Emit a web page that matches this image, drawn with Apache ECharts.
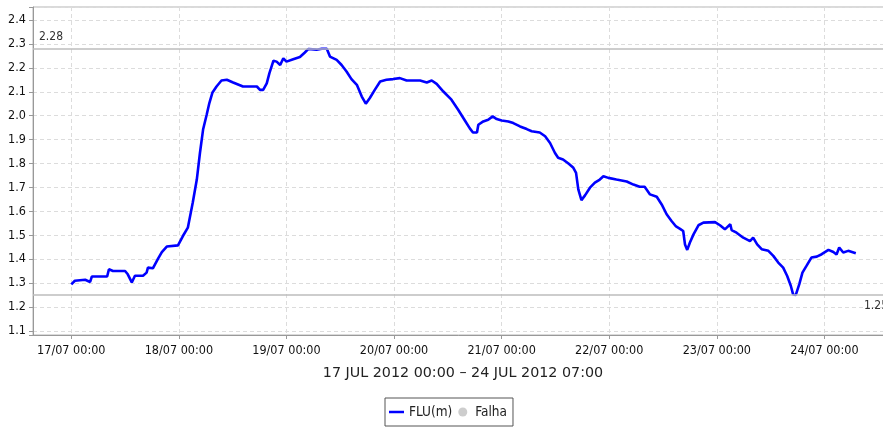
<!DOCTYPE html>
<html>
<head>
<meta charset="utf-8">
<script src="https://cdn.jsdelivr.net/npm/echarts@6/dist/echarts.min.js"></script>
<style>
  html, body { margin: 0; padding: 0; background: #fff; }
  #chart { width: 883px; height: 429px; }
</style>
</head>
<body>
<div id="chart"></div>
<script>
// FLU(m) level readings, 17 JUL 2012 00:00 to 24 JUL 2012 07:00
// Hours since 17/07/2012 00:00 (UTC)
const hours = [
  0, 0.8, 3.1, 3.5, 4.2, 4.6, 8.0, 8.4, 9.3, 12.0,
  12.6, 13.5, 14.2, 16.0, 16.8, 17.1, 18.2, 19.3, 20.2, 21.3,
  23.8, 24.9, 26.0, 27.1, 28.0, 28.7, 29.4, 30.2, 30.8, 31.5,
  32.4, 33.5, 34.7, 36.1, 38.3, 41.4, 41.6, 42.1, 42.8, 43.6,
  44.2, 45.1, 45.8, 46.6, 47.3, 48.0, 49.5, 51.0, 52.1, 52.9,
  54.7, 55.9, 57.0, 57.7, 59.2, 60.3, 61.4, 62.5, 63.7, 64.8,
  65.7, 66.6, 67.7, 68.9, 70.3, 71.8, 73.3, 74.8, 77.8, 79.3,
  80.4, 81.5, 83.0, 84.8, 86.3, 87.8, 88.9, 89.6, 90.5, 90.8,
  91.9, 93.0, 94.0, 94.9, 96.0, 97.5, 98.6, 100.1, 101.6, 102.7,
  104.5, 105.7, 106.8, 107.9, 108.6, 109.7, 110.9, 112.0, 112.6, 113.1,
  113.8, 114.6, 115.7, 116.8, 117.9, 118.7, 119.8, 121.6, 123.9, 125.4,
  126.8, 127.9, 129.1, 130.6, 131.7, 132.8, 133.9, 134.9, 135.8, 136.5,
  136.9, 137.4, 138.0, 138.8, 139.9, 141.0, 143.6, 144.7, 145.8, 147.0,
  147.3, 148.4, 149.9, 151.4, 152.1, 153.0, 154.0, 155.5, 156.6, 157.7,
  158.8, 159.7, 160.5, 161.0, 161.6, 162.4, 163.1, 164.0, 165.1, 166.3,
  167.4, 168.9, 170.0, 170.7, 171.3, 172.2, 173.3, 175.0
];
// FLU(m) values
const flu = [
  1.295, 1.31, 1.314, 1.32, 1.305, 1.328, 1.328, 1.358, 1.351, 1.351,
  1.337, 1.303, 1.331, 1.331, 1.344, 1.365, 1.362, 1.40, 1.43, 1.453,
  1.458, 1.497, 1.532, 1.637, 1.733, 1.844, 1.942, 2.004, 2.053, 2.097,
  2.122, 2.147, 2.15, 2.139, 2.122, 2.122, 2.129, 2.108, 2.108, 2.135,
  2.178, 2.23, 2.226, 2.212, 2.24, 2.226, 2.236, 2.245, 2.264, 2.279,
  2.276, 2.28, 2.28, 2.247, 2.233, 2.212, 2.185, 2.153, 2.129, 2.08,
  2.05, 2.074, 2.108, 2.143, 2.15, 2.153, 2.157, 2.147, 2.147, 2.139,
  2.147, 2.133, 2.101, 2.067, 2.025, 1.98, 1.947, 1.93, 1.93, 1.962,
  1.976, 1.983, 1.997, 1.986, 1.98, 1.976, 1.969, 1.955, 1.944, 1.935,
  1.93, 1.914, 1.886, 1.844, 1.824, 1.817, 1.80, 1.782, 1.761, 1.692,
  1.647, 1.667, 1.699, 1.72, 1.733, 1.747, 1.74, 1.733, 1.725, 1.712,
  1.703, 1.703, 1.671, 1.661, 1.629, 1.588, 1.56, 1.537, 1.527, 1.518,
  1.462, 1.439, 1.47, 1.504, 1.542, 1.553, 1.555, 1.542, 1.525, 1.546,
  1.522, 1.511, 1.49, 1.476, 1.49, 1.462, 1.442, 1.435, 1.414, 1.386,
  1.365, 1.33, 1.289, 1.254, 1.25, 1.296, 1.344, 1.372, 1.407, 1.411,
  1.421, 1.439, 1.43, 1.42, 1.449, 1.428, 1.435, 1.425
];
const seriesNames = ['FLU(m)', 'Falha'];
const rangeTitle = '17 JUL 2012 00:00 \u2013 24 JUL 2012 07:00';

const HOUR = 3600 * 1000;
const base = Date.UTC(2012, 6, 17, 0, 0);
const fluData = hours.map((h, i) => [base + h * HOUR, flu[i]]);

const labelFont = "'DejaVu Sans Condensed', 'DejaVu Sans', sans-serif";
const pad = n => (n < 10 ? '0' : '') + n;

const chart = echarts.init(document.getElementById('chart'), null, { renderer: 'canvas' });
chart.setOption({
  animation: false,
  useUTC: true,
  backgroundColor: '#ffffff',
  grid: {
    left: 33, top: 7, right: -10, bottom: 94,
    show: true, borderColor: '#b4b4b4', borderWidth: 1,
    containLabel: false, outerBoundsMode: 'none'
  },
  legend: {
    left: 385, top: 398,
    padding: [7, 6, 7, 4],
    borderColor: '#555', borderWidth: 1, borderRadius: 0,
    itemWidth: 15, itemHeight: 9, itemGap: 6,
    textStyle: { fontFamily: labelFont, fontSize: 13.5, color: '#222' },
    data: [
      // plain stroke icon for the line series
      { name: seriesNames[0], icon: 'path://M0,0L15,0L15,2.5L0,2.5Z' },
      { name: seriesNames[1], icon: 'circle' }
    ]
  },
  xAxis: {
    type: 'time',
    min: base - 8.54 * HOUR,
    max: base + 183.3 * HOUR,
    minInterval: 24 * HOUR,
    maxInterval: 24 * HOUR,
    name: rangeTitle,
    nameLocation: 'middle',
    nameGap: 31,
    nameTextStyle: { fontFamily: "'DejaVu Sans', sans-serif", fontSize: 14.3, color: '#222' },
    axisLine: { show: true, lineStyle: { color: '#999', width: 1 } },
    axisTick: { show: true, inside: false, length: 4, lineStyle: { color: '#999' } },
    axisLabel: {
      margin: 9,
      fontFamily: labelFont, fontSize: 12.5, color: '#111',
      formatter: v => {
        const d = new Date(v);
        return pad(d.getUTCDate()) + '/' + pad(d.getUTCMonth() + 1) + ' ' +
          pad(d.getUTCHours()) + ':' + pad(d.getUTCMinutes());
      }
    },
    splitLine: { show: true, lineStyle: { color: '#dcdcdc', type: [4, 3], width: 1 } }
  },
  yAxis: {
    type: 'value',
    min: 1.0833,
    max: 2.4543,
    splitNumber: 13,
    axisLine: { show: true, lineStyle: { color: '#999', width: 1 } },
    axisTick: { show: true, inside: false, length: 4, lineStyle: { color: '#999' } },
    axisLabel: {
      margin: 7,
      fontFamily: labelFont, fontSize: 12.5, color: '#111',
      formatter: v => (Math.abs(v * 10 - Math.round(v * 10)) < 1e-6 ? v.toFixed(1) : '')
    },
    splitLine: { show: true, lineStyle: { color: '#dcdcdc', type: [4, 3], width: 1 } }
  },
  series: [
    {
      name: seriesNames[0],
      type: 'line',
      data: fluData,
      symbol: 'none',
      showSymbol: false,
      color: '#0000ff',
      lineStyle: { color: '#0000ff', width: 2.6 },
      markLine: {
        silent: true,
        symbol: 'none',
        precision: 2,
        lineStyle: { color: '#bdbdbd', width: 1.5, type: 'solid' },
        data: [
          {
            type: 'max',
            label: {
              position: 'insideStartTop', distance: 6,
              fontFamily: labelFont, fontSize: 12, color: '#333'
            }
          },
          {
            type: 'min',
            label: {
              position: 'insideEndBottom', distance: 5,
              fontFamily: labelFont, fontSize: 12, color: '#333'
            }
          }
        ]
      }
    },
    {
      name: seriesNames[1],
      type: 'scatter',
      data: [],
      color: '#c0c0c0',
      symbol: 'circle'
    }
  ]
});
</script>
</body>
</html>
